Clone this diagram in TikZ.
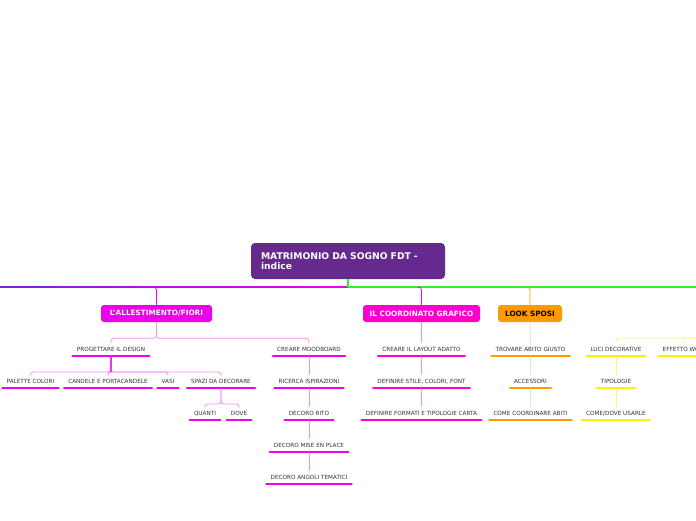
\documentclass[tikz,border=0pt]{standalone}
\usepackage{fontspec}
\setmainfont{DejaVu Sans}
\usetikzlibrary{calc}
\definecolor{rootc}{HTML}{662A8E}
\definecolor{mag}{HTML}{EE00EE}
\definecolor{pinkc}{HTML}{FF00CC}
\definecolor{orc}{HTML}{FF9900}
\definecolor{yel}{HTML}{FFF000}
\definecolor{grn}{HTML}{33EE33}
\definecolor{purl}{HTML}{7A22D6}
\definecolor{txt}{HTML}{333333}
\tikzset{
 rootbox/.style={fill=rootc, rounded corners=4pt, text=white, font=\bfseries\fontsize{9.2}{10.5}\selectfont, minimum width=194pt, minimum height=36pt, text width=174pt, align=left, inner sep=0pt},
 topic/.style={rounded corners=3pt, font=\bfseries\fontsize{7.3}{8}\selectfont, minimum height=17pt, inner sep=0pt, text=white},
 leaf/.style={anchor=south, font=\fontsize{5.7}{6}\selectfont, text=txt, inner xsep=4pt, inner ysep=4pt, text height=4.2pt, text depth=0pt},
 bar/.style={line width=2.6pt, line cap=round},
 conn/.style={line width=0.8pt, rounded corners=3pt},
}
\newcommand\leafnode[5]{\node[leaf] (#1) at (#2,#3) {#4}; \draw[bar,#5] (#1.south west) -- (#1.south east);}
\begin{document}
\begin{tikzpicture}[x=1pt,y=-1pt]
\useasboundingbox (0,0) rectangle (696,520);
\fill[white] (0,0) rectangle (696,520);
\clip (0,0) rectangle (696,520);
% root
\node[rootbox] (root) at (348,261) {MATRIMONIO DA SOGNO FDT -\\indice};
\coordinate (ml) at (0,287);
\coordinate (mr) at (696,287);
\coordinate (mm) at (348,287);
\shade[left color=purl, right color=mag] (0,286.4) rectangle (348,287.6);
\draw[grn, line width=1.2pt] (root.south) -- (mm);
\draw[grn, line width=1.2pt] (mm) -- (mr);
% topics
\node[topic, fill=mag, minimum width=111pt] (allest) at (156.5,313.5) {L'ALLESTIMENTO/FIORI};
\node[topic, fill=pinkc, minimum width=117pt] (cograf) at (421.5,313.5) {IL COORDINATO GRAFICO};
\node[topic, fill=orc, minimum width=64pt, text=black] (look) at (530,313.5) {LOOK SPOSI};
\coordinate (j1) at (152,287);
\coordinate (j2) at (417,287);
\coordinate (j3) at (526,287);
\draw[conn, mag] (j1) -| (allest.north);
\draw[conn, pinkc] (j2) -| (cograf.north);
\draw[conn, orc] (j3) -| (look.north);
% leaves
\leafnode{prog}{111}{356}{PROGETTARE IL DESIGN}{mag}
\leafnode{mood}{309}{356}{CREARE MOODBOARD}{mag}
\leafnode{pal}{30.5}{388}{PALETTE COLORI}{mag}
\leafnode{cand}{108}{388}{CANDELE E PORTACANDELE}{mag}
\leafnode{vasi}{168}{388}{VASI}{mag}
\leafnode{spazi}{221}{388}{SPAZI DA DECORARE}{mag}
\leafnode{quanti}{205}{420}{QUANTI}{mag}
\leafnode{dove}{239}{420}{DOVE}{mag}
\leafnode{ric}{309}{388}{RICERCA ISPIRAZIONI}{mag}
\leafnode{rito}{309}{420}{DECORO RITO}{mag}
\leafnode{mise}{309}{452}{DECORO MISE EN PLACE}{mag}
\leafnode{angoli}{309}{484}{DECORO ANGOLI TEMATICI}{mag}
\leafnode{lay}{421.5}{356}{CREARE IL LAYOUT ADATTO}{pinkc}
\leafnode{stile}{421.5}{388}{DEFINIRE STILE, COLORI, FONT}{pinkc}
\leafnode{form}{421.5}{420}{DEFINIRE FORMATI E TIPOLOGIE CARTA}{pinkc}
\leafnode{abito}{530.5}{356}{TROVARE ABITO GIUSTO}{orc}
\leafnode{acc}{530.5}{388}{ACCESSORI}{orc}
\leafnode{coord}{530.5}{420}{COME COORDINARE ABITI}{orc}
\leafnode{luci}{616}{356}{LUCI DECORATIVE}{yel}
\leafnode{tipo}{616}{388}{TIPOLOGIE}{yel}
\leafnode{usare}{616}{420}{COME/DOVE USARLE}{yel}
\leafnode{wow}{684}{356}{EFFETTO WOW}{yel}
% connectors allestimento
\draw[conn, mag!45] (allest.south) -- ++(0,16) -| (prog.north);
\draw[conn, mag!45] (allest.south) -- ++(0,16) -| (mood.north);
\draw[conn, mag!45] (prog.south) -- ++(0,16) -| (pal.north);
\draw[conn, mag!45] (prog.south) -- ++(0,16) -| (cand.north);
\draw[conn, mag!45] (prog.south) -- ++(0,16) -| (vasi.north);
\draw[conn, mag!45] (prog.south) -- ++(0,16) -| (spazi.north);
\draw[line width=1.1pt, mag!80] (prog.south) -- ++(0,16);
\draw[conn, mag!45] (spazi.south) -- ++(0,16) -| (quanti.north);
\draw[conn, mag!45] (spazi.south) -- ++(0,16) -| (dove.north);
\draw[conn, mag!45] (mood.south) -- (ric.north);
\draw[conn, mag!45] (ric.south) -- (rito.north);
\draw[conn, mag!45] (rito.south) -- (mise.north);
\draw[conn, mag!45] (mise.south) -- (angoli.north);
% coordinato
\draw[conn, pinkc!45] (cograf.south) -- (lay.north);
\draw[conn, pinkc!45] (lay.south) -- (stile.north);
\draw[conn, pinkc!45] (stile.south) -- (form.north);
% look sposi
\draw[conn, orc!35] (look.south) -- (abito.north);
\draw[conn, orc!35] (abito.south) -- (acc.north);
\draw[conn, orc!35] (acc.south) -- (coord.north);
% yellow
\coordinate (ypar) at (720,338);
\draw[conn, yel!55] (ypar) -| (luci.north);
\draw[conn, yel!55] (ypar) -| (wow.north);
\draw[conn, yel!55] (luci.south) -- (tipo.north);
\draw[conn, yel!55] (tipo.south) -- (usare.north);
\end{tikzpicture}
\end{document}
